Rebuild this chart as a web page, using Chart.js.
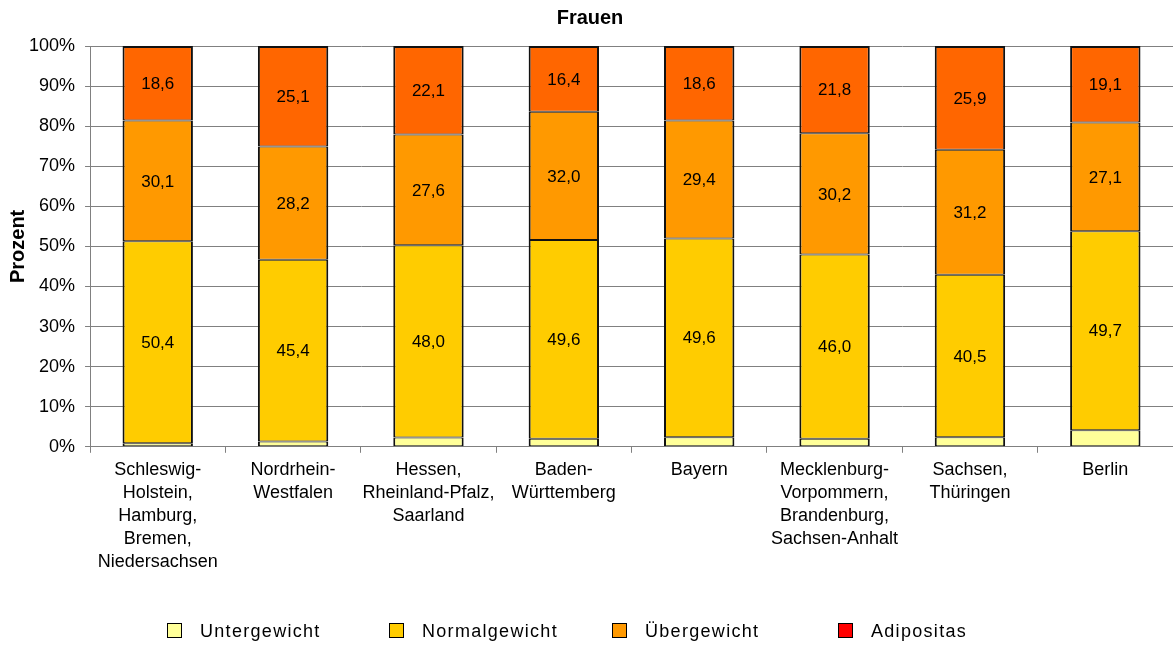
<!DOCTYPE html>
<html>
<head>
<meta charset="utf-8">
<script src="https://cdn.jsdelivr.net/npm/chart.js@4/dist/chart.umd.min.js"></script>
<style>
  body { margin: 0; background: #fff; overflow: hidden; }
  #wrap { position: relative; width: 1173px; height: 645px; }
  #legend { position: absolute; left: 0; top: 621px; width: 1173px; height: 24px;
            font-family: Arial, "Liberation Sans", sans-serif; font-size: 18px; color: #000; }
  .item { position: absolute; top: 0; white-space: nowrap; letter-spacing: 1.3px; }
  .box { display: inline-block; width: 13px; height: 13px; border: 1px solid #000;
         vertical-align: -1px; margin-right: 18px; }
</style>
</head>
<body>
<div id="wrap">
  <canvas id="chartCanvas" width="1173" height="645"></canvas>
  <div id="legend"></div>
</div>
<script>
const regions = [
  ["Schleswig-", "Holstein,", "Hamburg,", "Bremen,", "Niedersachsen"],
  ["Nordrhein-", "Westfalen"],
  ["Hessen,", "Rheinland-Pfalz,", "Saarland"],
  ["Baden-", "Württemberg"],
  ["Bayern"],
  ["Mecklenburg-", "Vorpommern,", "Brandenburg,", "Sachsen-Anhalt"],
  ["Sachsen,", "Thüringen"],
  ["Berlin"]
];
const untergewicht = [0.9, 1.3, 2.3, 2.0, 2.4, 2.0, 2.4, 4.1];
const normalgewicht = [50.4, 45.4, 48.0, 49.6, 49.6, 46.0, 40.5, 49.7];
const uebergewicht = [30.1, 28.2, 27.6, 32.0, 29.4, 30.2, 31.2, 27.1];
const adipositas = [18.6, 25.1, 22.1, 16.4, 18.6, 21.8, 25.9, 19.1];

const seriesNames = ["Untergewicht", "Normalgewicht", "Übergewicht", "Adipositas"];
const barColors = ["#FFFF99", "#FFCC00", "#FF9900", "#FF6600"];
const legendColors = ["#FFFF99", "#FFCC00", "#FF9900", "#FF0000"];
const legendLeft = [167, 389, 612, 838];

const font = "Arial, 'Liberation Sans', sans-serif";

// draws the numbers in the middle of each segment (not for Untergewicht)
const segmentLabels = {
  id: 'segmentLabels',
  afterDatasetsDraw(chart) {
    const ctx = chart.ctx;
    ctx.save();
    ctx.font = "17px " + font;
    ctx.fillStyle = "#000";
    ctx.textAlign = "center";
    ctx.textBaseline = "middle";
    chart.data.datasets.forEach((ds, i) => {
      if (i === 0) return;
      chart.getDatasetMeta(i).data.forEach((bar, j) => {
        const p = bar.getProps(['x', 'y', 'base'], true);
        ctx.fillText(ds.data[j].toFixed(1).replace('.', ','), p.x, (p.y + p.base) / 2 + 1);
      });
    });
    ctx.restore();
  }
};

const series = [untergewicht, normalgewicht, uebergewicht, adipositas];

new Chart(document.getElementById('chartCanvas').getContext('2d'), {
  type: 'bar',
  data: {
    labels: regions,
    datasets: series.map((d, i) => ({
      label: seriesNames[i],
      data: d,
      backgroundColor: barColors[i],
      borderColor: "#111",
      borderWidth: { left: 2, right: 2, bottom: 1, top: i === 3 ? 2 : 1 },
      borderSkipped: false,
      categoryPercentage: 1,
      barPercentage: 0.52
    }))
  },
  options: {
    responsive: false,
    animation: false,
    layout: { padding: { left: 4, right: -3, top: 0, bottom: 65 } },
    plugins: {
      legend: { display: false },
      tooltip: { enabled: false },
      title: {
        display: true,
        text: "Frauen",
        color: "#000",
        font: { family: font, size: 20, weight: 'bold' },
        padding: { top: 6, bottom: 16 }
      }
    },
    scales: {
      x: {
        stacked: true,
        grid: { drawOnChartArea: false, color: "#808080", tickLength: 6, offset: true },
        border: { color: "#808080" },
        ticks: {
          color: "#000",
          font: { family: font, size: 18, lineHeight: 1.28 },
          maxRotation: 0,
          autoSkip: false,
          padding: 6
        }
      },
      y: {
        stacked: true,
        min: 0,
        max: 100,
        grid: { color: "#808080", tickLength: 5 },
        border: { color: "#808080" },
        ticks: {
          stepSize: 10,
          color: "#000",
          font: { family: font, size: 18 },
          padding: 10,
          callback: v => v + '%'
        },
        title: {
          display: true,
          text: "Prozent",
          color: "#000",
          font: { family: font, size: 20, weight: 'bold', lineHeight: 1 },
          padding: { top: 4, bottom: -9 }
        }
      }
    }
  },
  plugins: [segmentLabels]
});

const legend = document.getElementById('legend');
seriesNames.forEach((name, i) => {
  const item = document.createElement('div');
  item.className = 'item';
  item.style.left = legendLeft[i] + 'px';
  item.innerHTML = '<span class="box" style="background:' + legendColors[i] + '"></span>' + name;
  legend.appendChild(item);
});
</script>
</body>
</html>
